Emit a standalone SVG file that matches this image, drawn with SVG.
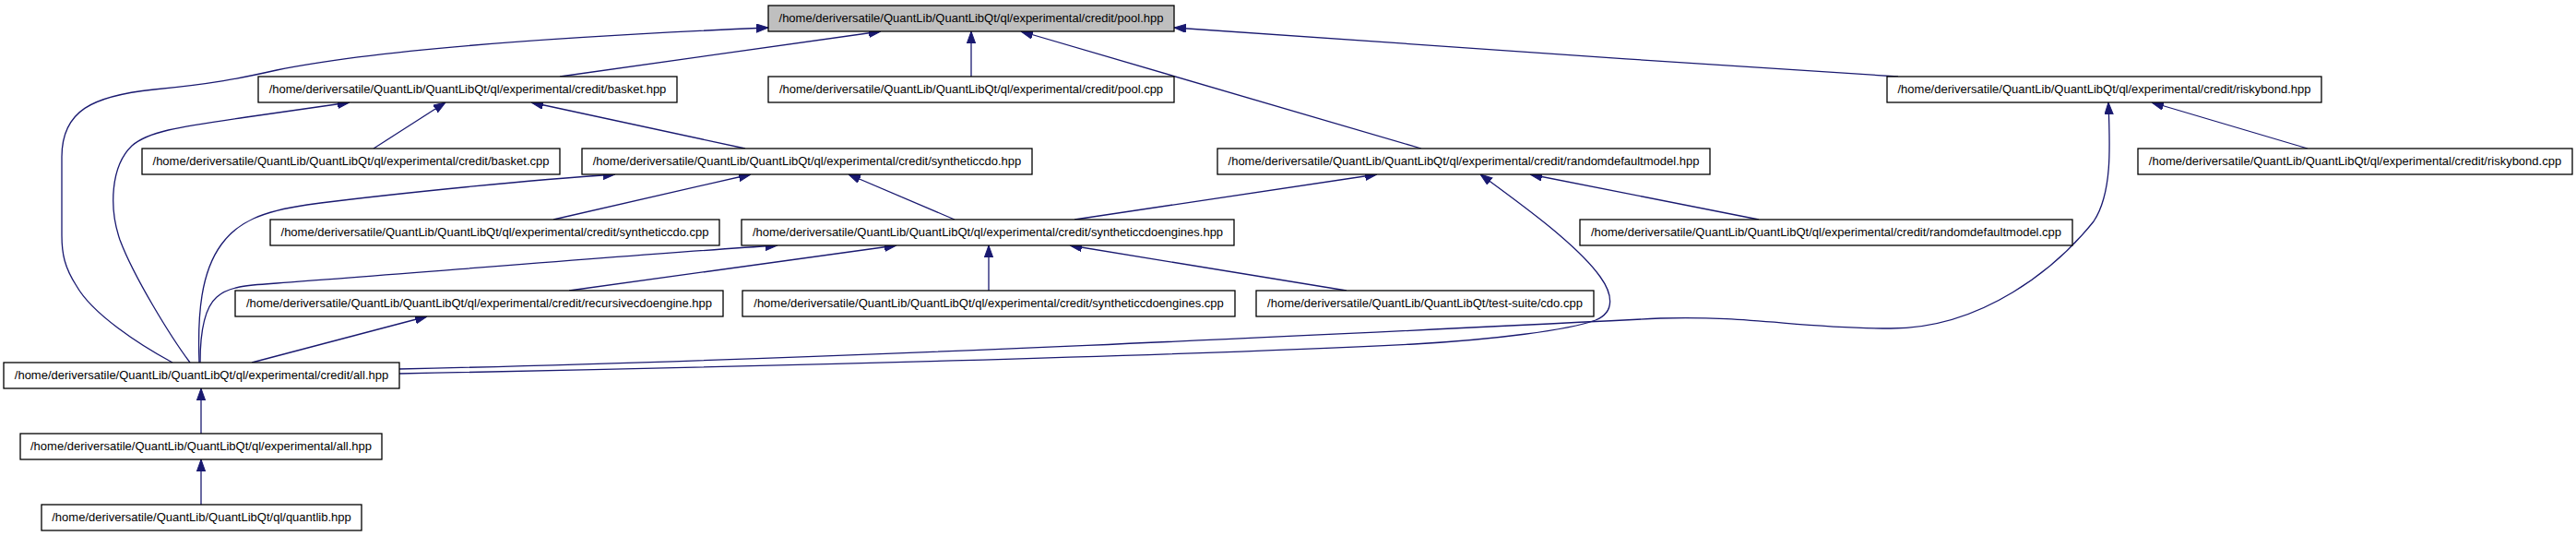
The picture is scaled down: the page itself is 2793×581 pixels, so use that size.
<svg xmlns="http://www.w3.org/2000/svg" width="2793" height="581" viewBox="0 0 2793 581">
<style>
.n rect{fill:#fff;stroke:#000;stroke-width:1.3}
.n.root rect{fill:#bfbfbf}
.n text{font-family:"Liberation Sans",Arial,sans-serif;font-size:13px;fill:#000;text-anchor:middle}
#edges path{fill:none;stroke:#191970;stroke-width:1.3;marker-end:url(#ah)}
</style>
<defs>
<marker id="ah" markerUnits="userSpaceOnUse" markerWidth="13" markerHeight="10" refX="13" refY="4.65" orient="auto">
<path d="M0,0 L13,4.65 L0,9.3 z" fill="#191970" stroke="#191970" stroke-width="1"/>
</marker>
</defs>
<rect width="2793" height="581" fill="#fff"/>
<g id="edges">
<path d="M187,393 C150,373 100,340 83,310 C70,290 67,275 67,255 L67,170 C67,120 100,104 167,97 C230,91 260,85 300,76 C400,55 600,40 833,30"/>
<path d="M206,393 C185,365 145,300 130,260 C118,225 120,180 143,158 C160,143 190,138 267,127 L379,111"/>
<path d="M216,393 C214,340 218,295 240,265 C258,240 285,229 333,222 C400,213 560,196 667,189"/>
<path d="M217,393 C217,365 220,335 235,322 C248,310 270,309 300,307 C450,296 700,275 843,266"/>
<path d="M273,393 L463,343"/>
<path d="M218,470 L218,421"/>
<path d="M218,547 L218,498"/>
<path d="M432,405 C800,398 1300,385 1533,373 C1620,368 1700,358 1730,347 C1752,338 1748,318 1735,300 C1710,265 1650,222 1605,189"/>
<path d="M432,400 C900,390 1500,360 1800,345 C1900,342 1950,356 2050,356 C2150,356 2230,290 2270,240 C2290,210 2288,160 2286,111"/>
<path d="M2058,83 C1800,68 1500,44 1273,30"/>
<path d="M1541,161 L1107,34"/>
<path d="M1053,83 L1053,34"/>
<path d="M607,83 L955,34"/>
<path d="M405,161 L483,111"/>
<path d="M808,161 L576,111"/>
<path d="M600,238 L814,189"/>
<path d="M1035,238 L920,189"/>
<path d="M1165,238 L1493,189"/>
<path d="M1907,238 L1659,189"/>
<path d="M2502,161 L2333,111"/>
<path d="M617,315 L972,266"/>
<path d="M1072,315 L1072,266"/>
<path d="M1460,315 L1160,266"/>
</g>
<g id="pool_hpp" class="n root"><rect x="833" y="6" width="440" height="28"/><text x="1053" y="24">/home/deriversatile/QuantLib/QuantLibQt/ql/experimental/credit/pool.hpp</text></g>
<g id="basket_hpp" class="n"><rect x="280" y="83" width="454" height="28"/><text x="507" y="101">/home/deriversatile/QuantLib/QuantLibQt/ql/experimental/credit/basket.hpp</text></g>
<g id="pool_cpp" class="n"><rect x="833" y="83" width="440" height="28"/><text x="1053" y="101">/home/deriversatile/QuantLib/QuantLibQt/ql/experimental/credit/pool.cpp</text></g>
<g id="riskybond_hpp" class="n"><rect x="2046" y="83" width="471" height="28"/><text x="2281.5" y="101">/home/deriversatile/QuantLib/QuantLibQt/ql/experimental/credit/riskybond.hpp</text></g>
<g id="basket_cpp" class="n"><rect x="154" y="161" width="453" height="28"/><text x="380.5" y="179">/home/deriversatile/QuantLib/QuantLibQt/ql/experimental/credit/basket.cpp</text></g>
<g id="syntheticcdo_hpp" class="n"><rect x="631" y="161" width="488" height="28"/><text x="875" y="179">/home/deriversatile/QuantLib/QuantLibQt/ql/experimental/credit/syntheticcdo.hpp</text></g>
<g id="randomdefaultmodel_hpp" class="n"><rect x="1320" y="161" width="534" height="28"/><text x="1587" y="179">/home/deriversatile/QuantLib/QuantLibQt/ql/experimental/credit/randomdefaultmodel.hpp</text></g>
<g id="riskybond_cpp" class="n"><rect x="2318" y="161" width="471" height="28"/><text x="2553.5" y="179">/home/deriversatile/QuantLib/QuantLibQt/ql/experimental/credit/riskybond.cpp</text></g>
<g id="syntheticcdo_cpp" class="n"><rect x="293" y="238" width="487" height="28"/><text x="536.5" y="256">/home/deriversatile/QuantLib/QuantLibQt/ql/experimental/credit/syntheticcdo.cpp</text></g>
<g id="syntheticcdoengines_hpp" class="n"><rect x="804" y="238" width="534" height="28"/><text x="1071" y="256">/home/deriversatile/QuantLib/QuantLibQt/ql/experimental/credit/syntheticcdoengines.hpp</text></g>
<g id="randomdefaultmodel_cpp" class="n"><rect x="1713" y="238" width="534" height="28"/><text x="1980" y="256">/home/deriversatile/QuantLib/QuantLibQt/ql/experimental/credit/randomdefaultmodel.cpp</text></g>
<g id="recursivecdoengine_hpp" class="n"><rect x="255" y="315" width="529" height="28"/><text x="519.5" y="333">/home/deriversatile/QuantLib/QuantLibQt/ql/experimental/credit/recursivecdoengine.hpp</text></g>
<g id="syntheticcdoengines_cpp" class="n"><rect x="805" y="315" width="534" height="28"/><text x="1072" y="333">/home/deriversatile/QuantLib/QuantLibQt/ql/experimental/credit/syntheticcdoengines.cpp</text></g>
<g id="cdo_cpp" class="n"><rect x="1362" y="315" width="366" height="28"/><text x="1545" y="333">/home/deriversatile/QuantLib/QuantLibQt/test-suite/cdo.cpp</text></g>
<g id="credit_all_hpp" class="n"><rect x="4" y="393" width="429" height="28"/><text x="218.5" y="411">/home/deriversatile/QuantLib/QuantLibQt/ql/experimental/credit/all.hpp</text></g>
<g id="experimental_all_hpp" class="n"><rect x="22" y="470" width="392" height="28"/><text x="218" y="488">/home/deriversatile/QuantLib/QuantLibQt/ql/experimental/all.hpp</text></g>
<g id="quantlib_hpp" class="n"><rect x="45" y="547" width="347" height="28"/><text x="218.5" y="565">/home/deriversatile/QuantLib/QuantLibQt/ql/quantlib.hpp</text></g>
</svg>
